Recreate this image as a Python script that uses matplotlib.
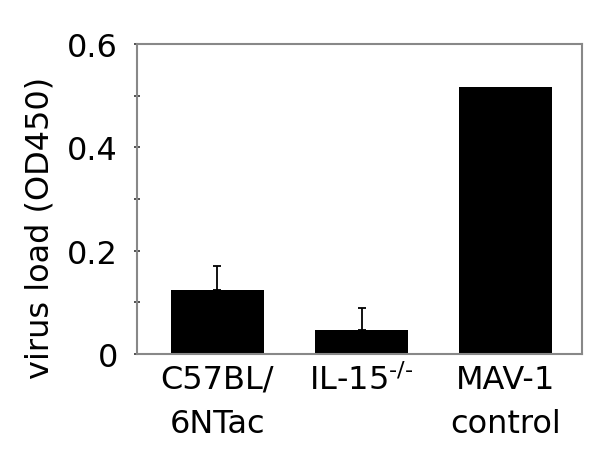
import matplotlib
matplotlib.use("Agg")
import matplotlib.pyplot as plt
from matplotlib.ticker import MultipleLocator

plt.rcParams['font.family'] = ['DejaVu Sans']
plt.rcParams['mathtext.fontset'] = 'dejavusans'

categories = ["C57BL/\n6NTac", "IL-15$^{\\text{-/-}}$", "MAV-1\ncontrol"]
values = [0.124, 0.046, 0.517]
errors = [0.046, 0.043, 0.0]
yticks = [0, 0.2, 0.4, 0.6]
ytick_labels = ["0", "0.2", "0.4", "0.6"]

FS = 23

fig = plt.figure(figsize=(6, 4.56), dpi=100)
ax = fig.add_axes([0.228, 0.2215, 0.742, 0.6795])

x = list(range(len(categories)))
ax.bar(x, values, width=0.645, color='black', zorder=2)
ex = [xi for xi, e in zip(x, errors) if e > 0]
ev = [v for v, e in zip(values, errors) if e > 0]
ee = [e for e in errors if e > 0]
ax.errorbar(ex, ev, yerr=[[0]*len(ee), ee], fmt='none',
            ecolor='black', elinewidth=1.3, capsize=3, capthick=1.3, zorder=3)

ax.set_xlim(-0.56, 2.53)
ax.set_ylim(0, 0.6)
ax.set_yticks(yticks)
ax.set_yticklabels(ytick_labels)
ax.yaxis.set_minor_locator(MultipleLocator(0.1))
ax.set_xticks(x)
ax.set_xticklabels(categories, linespacing=1.55, va='top')
ax.tick_params(axis='x', length=0, pad=7, labelsize=FS)
ax.tick_params(axis='y', which='major', direction='inout', length=5, width=1.2, pad=11, labelsize=FS, color='#333333')
ax.tick_params(axis='y', which='minor', direction='inout', length=5, width=1.2, color='#333333')
ax.set_ylabel("virus load (OD450)", fontsize=FS)
ax.yaxis.set_label_coords(-0.183, 0.41)

for s in ax.spines.values():
    s.set_color('#888888')
    s.set_linewidth(1.5)

fig.savefig("out.png", dpi=100)
